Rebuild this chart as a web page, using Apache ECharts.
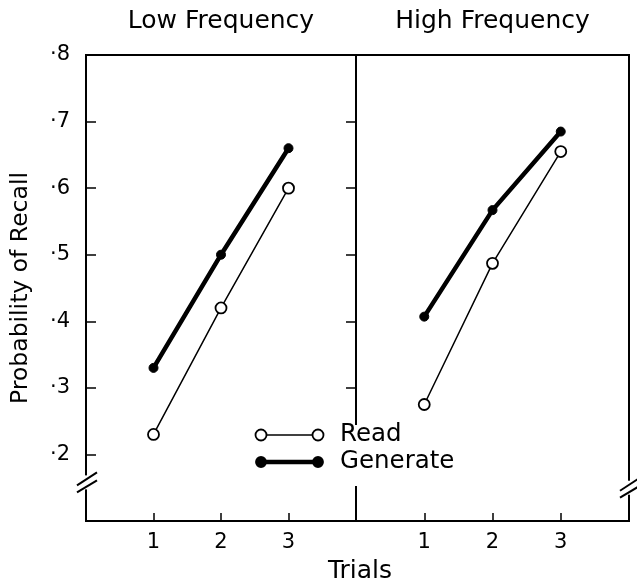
<!DOCTYPE html>
<html>
<head>
<meta charset="utf-8">
<script src="https://cdn.jsdelivr.net/npm/echarts@6/dist/echarts.min.js"></script>
<style>
  html, body { margin: 0; padding: 0; background: #fff; }
  #chart { width: 637px; height: 583px; }
</style>
</head>
<body>
<div id="chart"></div>
<script>
// data
const trials = [1, 2, 3]
const panels = ['Low Frequency', 'High Frequency']
const lowRead = [0.23, 0.42, 0.60]
const lowGenerate = [0.33, 0.50, 0.66]
const highRead = [0.275, 0.487, 0.655]
const highGenerate = [0.407, 0.567, 0.685]
const yTicks = [0.2, 0.3, 0.4, 0.5, 0.6, 0.7, 0.8]

const FONT = 'DejaVu Sans'
const chart = echarts.init(document.getElementById('chart'))

const pts = arr => trials.map((t, i) => [t, arr[i]])

const grids = [
  { left: 86, top: 55, width: 270, height: 466 },
  { left: 356, top: 55, width: 273, height: 466 }
]

function xAxisFor (idx) {
  return {
    type: 'value',
    gridIndex: idx,
    min: 0,
    max: 4,
    interval: 1,
    axisLine: { show: false },
    splitLine: { show: false },
    axisTick: { inside: true, length: 8, customValues: trials, lineStyle: { color: '#000', width: 1.5 } },
    axisLabel: { customValues: trials, margin: 11, color: '#000', fontFamily: FONT, fontSize: 21 }
  }
}

function yAxisFor (idx) {
  return {
    type: 'value',
    gridIndex: idx,
    position: idx === 0 ? 'left' : 'right',
    min: 0.1,
    max: 0.8,
    interval: 0.1,
    axisLine: { show: false },
    splitLine: { show: false },
    axisTick: { inside: true, length: 10, customValues: yTicks, lineStyle: { color: '#000', width: 1.5 } },
    axisLabel: {
      show: idx === 0,
      customValues: yTicks,
      margin: 16,
      color: '#000',
      fontFamily: FONT,
      fontSize: 21,
      formatter: v => '·' + Math.round(v * 10)
    },
    name: idx === 0 ? 'Probability of Recall' : '',
    nameLocation: 'middle',
    nameRotate: 90,
    nameGap: 53,
    nameTextStyle: { color: '#000', fontFamily: FONT, fontSize: 23.5 }
  }
}

const readStyle = {
  type: 'line',
  symbol: 'circle',
  symbolSize: 11,
  lineStyle: { color: '#000', width: 1.5 },
  itemStyle: { color: '#fff', borderColor: '#000', borderWidth: 1.8 },
  z: 3
}
const genStyle = {
  type: 'line',
  symbol: 'circle',
  symbolSize: 9,
  lineStyle: { color: '#000', width: 4.5 },
  itemStyle: { color: '#000', borderColor: '#000', borderWidth: 1 },
  z: 2
}

const option = {
  animation: false,
  backgroundColor: '#fff',
  grid: grids.map(g => Object.assign({ show: true, borderColor: '#000', borderWidth: 2, backgroundColor: 'transparent' }, g)),
  xAxis: [xAxisFor(0), xAxisFor(1)],
  yAxis: [yAxisFor(0), yAxisFor(1)],
  series: [
    Object.assign({ name: 'Read', xAxisIndex: 0, yAxisIndex: 0, data: pts(lowRead) }, readStyle),
    Object.assign({ name: 'Generate', xAxisIndex: 0, yAxisIndex: 0, data: pts(lowGenerate) }, genStyle),
    Object.assign({ name: 'Read', xAxisIndex: 1, yAxisIndex: 1, data: pts(highRead) }, readStyle),
    Object.assign({ name: 'Generate', xAxisIndex: 1, yAxisIndex: 1, data: pts(highGenerate) }, genStyle)
  ]
}
chart.setOption(option)

// decorations: panel titles, x name, legend, axis breaks
const graphic = []
const textStyle = (size) => ({ fill: '#000', fontFamily: FONT, fontSize: size })

panels.forEach((p, i) => {
  const g = grids[i]
  graphic.push({
    type: 'text',
    x: g.left + g.width / 2,
    y: 21,
    z: 100,
    style: Object.assign({ text: p, align: 'center', verticalAlign: 'middle' }, textStyle(25))
  })
})

graphic.push({
  type: 'text',
  x: 360,
  y: 571,
  z: 100,
  style: Object.assign({ text: 'Trials', align: 'center', verticalAlign: 'middle' }, textStyle(25))
})

// legend box (covers the divider like in the figure)
graphic.push({ type: 'rect', z: 90, shape: { x: 250, y: 425, width: 215, height: 61 }, style: { fill: '#fff' } })
const legendItems = [
  { name: 'Read', y: 435, width: 1.5, fill: '#fff', r: 5.5 },
  { name: 'Generate', y: 462, width: 4.5, fill: '#000', r: 5 }
]
legendItems.forEach(it => {
  graphic.push({ type: 'line', z: 100, shape: { x1: 261, y1: it.y, x2: 318, y2: it.y }, style: { stroke: '#000', lineWidth: it.width } })
  ;[261, 318].forEach(cx => {
    graphic.push({ type: 'circle', z: 101, shape: { cx: cx, cy: it.y, r: it.r }, style: { fill: it.fill, stroke: '#000', lineWidth: 1.8 } })
  })
  graphic.push({
    type: 'text', x: 340, y: it.y, z: 100,
    style: Object.assign({ text: it.name, verticalAlign: 'middle' }, textStyle(24.5))
  })
})

// axis break marks
function addBreak (gridIdx, value, xVal) {
  const x = chart.convertToPixel({ xAxisIndex: gridIdx }, xVal)
  const y = chart.convertToPixel({ yAxisIndex: gridIdx }, value)
  graphic.push({ type: 'rect', z: 95, shape: { x: x - 4, y: y - 7, width: 8, height: 14 }, style: { fill: '#fff' } })
  graphic.push({ type: 'line', z: 100, shape: { x1: x - 9, y1: y + 3, x2: x + 11, y2: y - 10 }, style: { stroke: '#000', lineWidth: 2 } })
  graphic.push({ type: 'line', z: 100, shape: { x1: x - 9, y1: y + 10, x2: x + 11, y2: y - 2 }, style: { stroke: '#000', lineWidth: 2 } })
}
addBreak(0, 0.158, 0)
addBreak(1, 0.15, 4)

chart.setOption({ graphic: graphic })
</script>
</body>
</html>
